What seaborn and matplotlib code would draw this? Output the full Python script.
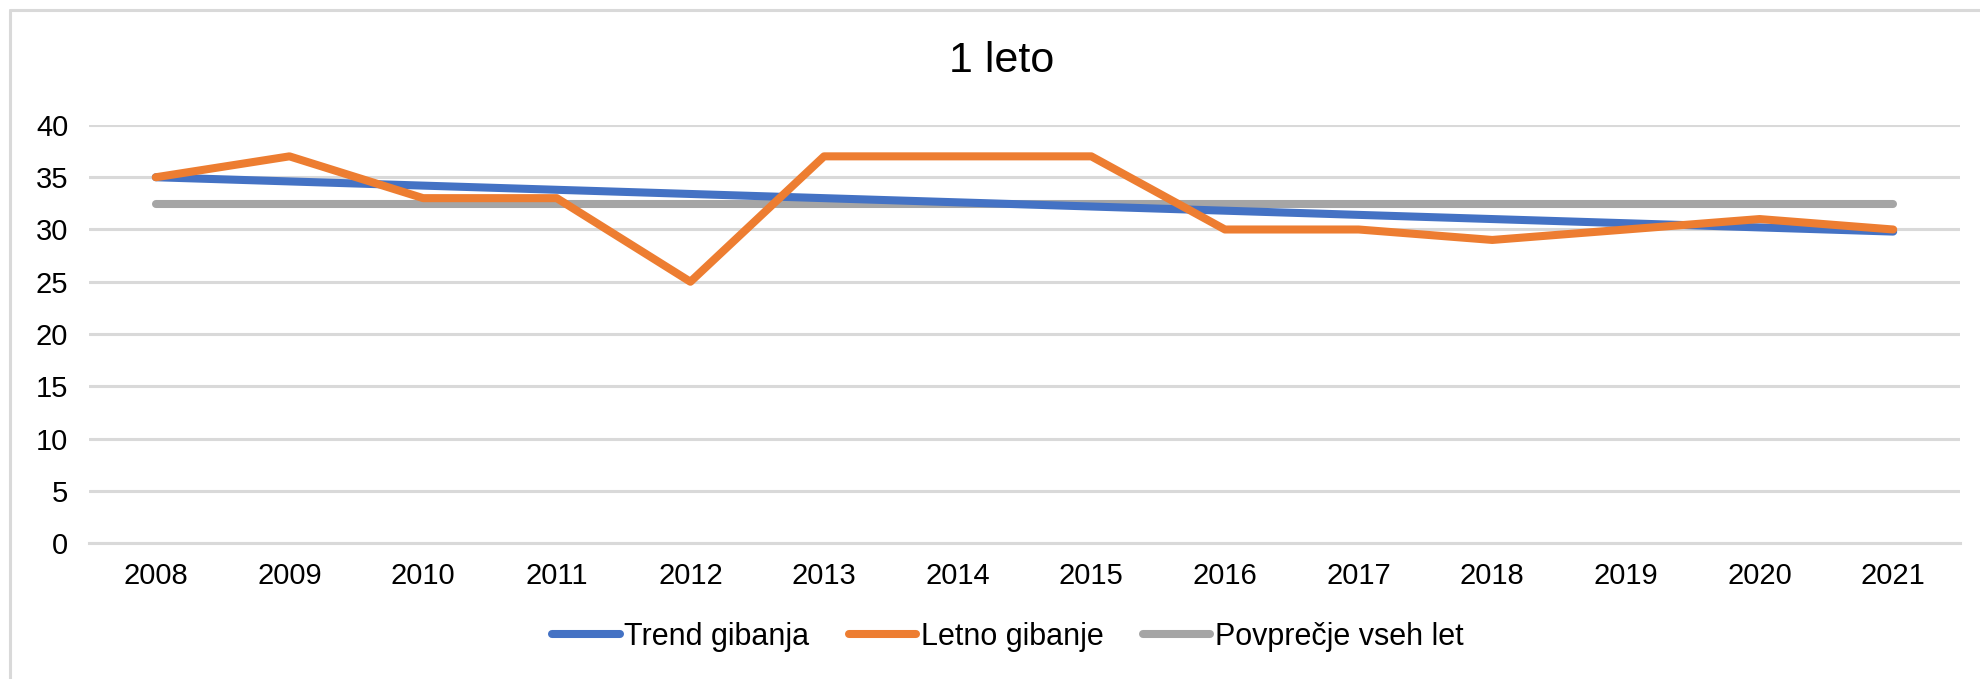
import pandas as pd
import matplotlib.pyplot as plt
import seaborn as sns
from matplotlib.lines import Line2D

# Data
years = ['2008', '2009', '2010', '2011', '2012', '2013', '2014',
         '2015', '2016', '2017', '2018', '2019', '2020', '2021']
letno = [35, 37, 33, 33, 25, 37, 37, 37, 30, 30, 29, 30, 31, 30]
trend = [35.0, 34.6, 34.2, 33.8, 33.4, 33.0, 32.6,
         32.2, 31.8, 31.4, 31.0, 30.6, 30.2, 29.8]
povprecje = [32.4] * 14

df = pd.DataFrame({'leto': years, 'Trend gibanja': trend,
                   'Letno gibanje': letno, 'Povprečje vseh let': povprecje})
df['x'] = range(len(years))

sns.set_style('white')
plt.rcParams['font.family'] = ['Liberation Sans', 'DejaVu Sans']
plt.rcParams['text.color'] = 'black'

fig = plt.figure(figsize=(19.81, 6.79), dpi=100)
ax = fig.add_axes([89 / 1981, 1 - 543 / 679, (1960 - 89) / 1981, (543 - 125) / 679])

lw = 5.8
sns.lineplot(data=df, x='x', y='Povprečje vseh let', color='#A5A5A5', lw=lw,
             solid_capstyle='round', ax=ax, zorder=3, label='Povprečje vseh let')
sns.lineplot(data=df, x='x', y='Trend gibanja', color='#4472C4', lw=lw,
             solid_capstyle='round', ax=ax, zorder=4, label='Trend gibanja')
sns.lineplot(data=df, x='x', y='Letno gibanje', color='#ED7D31', lw=lw,
             solid_capstyle='round', ax=ax, zorder=5, label='Letno gibanje')

ax.set_xlim(-0.5, len(years) - 0.5)
ax.set_ylim(0, 40)
ax.set_yticks(range(0, 41, 5))
ax.set_xticks(df['x'])
ax.set_xticklabels(years)
ax.set_xlabel('')
ax.set_ylabel('')
ax.yaxis.grid(True, color='#d9d9d9', lw=2.2)
ax.set_axisbelow(True)
for s in ax.spines.values():
    s.set_visible(False)
ax.spines['bottom'].set_visible(True)
ax.spines['bottom'].set_color('#d9d9d9')
ax.spines['bottom'].set_linewidth(2.2)
ax.tick_params(axis='y', length=0, pad=15, labelsize=21, labelcolor='black')
ax.tick_params(axis='x', length=0, pad=14, labelsize=21, labelcolor='black')

# legend in the original order
h, l = ax.get_legend_handles_labels()
ax.get_legend().remove()
order = [1, 2, 0]
fig.legend([h[i] for i in order], [l[i] for i in order], loc='center',
           bbox_to_anchor=(1008 / 1981, 1 - 637 / 679), ncol=3, frameon=False,
           fontsize=22, handlelength=2.2, handletextpad=0.15, columnspacing=1.3)

fig.text(1002 / 1981, 1 - 61 / 679, '1 leto', ha='center', va='center', fontsize=31)

# chart frame (left and top edges visible)
fig.add_artist(Line2D([10 / 1981, 10 / 1981], [0, 1 - 10 / 679], color='#d9d9d9', lw=2.2))
fig.add_artist(Line2D([10 / 1981, 1], [1 - 10 / 679, 1 - 10 / 679], color='#d9d9d9', lw=2.2))

fig.savefig('out.png', dpi=100, facecolor='white')
